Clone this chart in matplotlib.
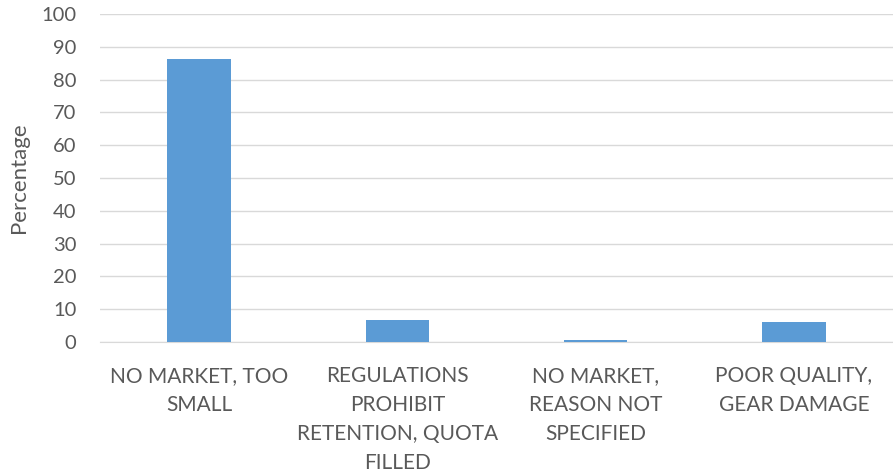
import matplotlib
matplotlib.use("Agg")
import matplotlib.pyplot as plt

categories = ["NO MARKET, TOO\nSMALL",
              "REGULATIONS\nPROHIBIT\nRETENTION, QUOTA\nFILLED",
              "NO MARKET,\nREASON NOT\nSPECIFIED",
              "POOR QUALITY,\nGEAR DAMAGE"]
percentages = [86.3, 6.6, 0.5, 6.2]
yticks = list(range(0, 101, 10))

plt.rcParams['font.family'] = ['Lato', 'DejaVu Sans']
text_color = '#595959'

fig = plt.figure(figsize=(8.93, 4.75), dpi=100)
ax = fig.add_axes([0.112, 0.28, 0.888, 0.6905])

x = list(range(len(categories)))
ax.bar(x, percentages, width=0.32, color='#5B9BD5', zorder=3)

ax.set_xlim(-0.5, len(categories) - 0.5)
ax.set_ylim(0, 100)
ax.set_yticks(yticks)
ax.set_xticks(x)
ax.set_xticklabels(categories, fontsize=15, color=text_color, linespacing=1.58)
ax.tick_params(axis='y', labelsize=14.5, labelcolor=text_color, length=0, pad=17)
ax.tick_params(axis='x', length=0, pad=17)
ax.grid(axis='y', color='#D9D9D9', linewidth=1, zorder=0)
for s in ['top', 'right', 'left']:
    ax.spines[s].set_visible(False)
ax.spines['bottom'].set_color('#D9D9D9')
ax.set_ylabel("Percentage", fontsize=16, color=text_color, labelpad=9)

fig.savefig("out.png", dpi=100)
